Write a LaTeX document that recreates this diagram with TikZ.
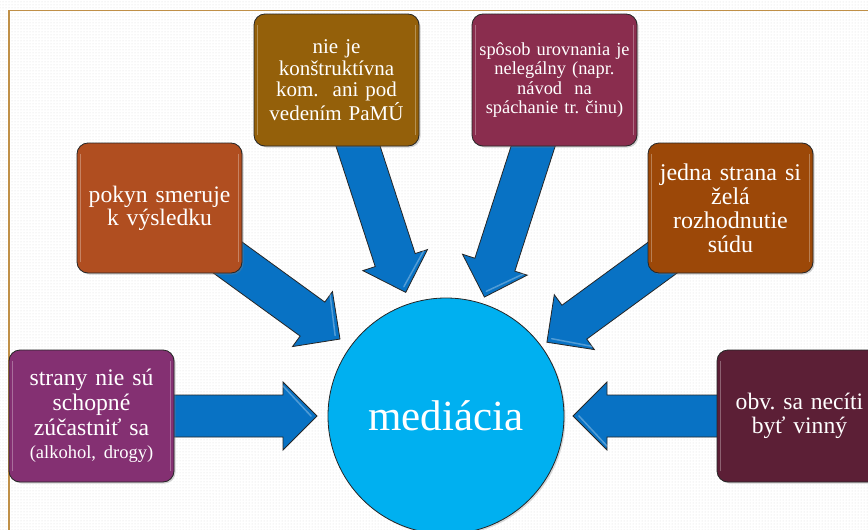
\documentclass[tikz,border=0pt]{standalone}
\usepackage{fontspec}
\setmainfont{Liberation Serif}
\frenchspacing
\usetikzlibrary{calc,shadows,patterns}
\definecolor{cA}{RGB}{132,48,114}
\definecolor{cB}{RGB}{176,78,32}
\definecolor{cC}{RGB}{148,96,10}
\definecolor{cD}{RGB}{138,45,78}
\definecolor{cE}{RGB}{156,72,8}
\definecolor{cF}{RGB}{92,31,54}
\definecolor{medc}{RGB}{0,176,240}
\definecolor{arrc}{RGB}{8,114,196}
\definecolor{framec}{RGB}{192,144,72}
\pgfdeclarelayer{back}
\pgfdeclarelayer{arrows}
\pgfsetlayers{back,arrows,main}
\newcommand{\blockarr}[2]{%
  \path ($(med)!#2!(#1)$) coordinate (tip-#1)
        ($(tip-#1)!34pt!(#1)$) coordinate (hb-#1);
  \draw[arrowsty] ($(#1)!21pt!90:(tip-#1)$) -- ($(hb-#1)!21pt!-90:(#1)$)
    -- ($(hb-#1)!34pt!-90:(#1)$) -- (tip-#1) -- ($(hb-#1)!34pt!90:(#1)$)
    -- ($(hb-#1)!21pt!90:(#1)$) -- ($(#1)!21pt!-90:(tip-#1)$) -- cycle;
  \draw[gloss] ($(hb-#1)!30pt!-90:(#1)$) -- ($(tip-#1)!6pt!(hb-#1)$);
}
\begin{document}
\begin{tikzpicture}[x=1pt,y=-1pt,
  box/.style={rounded corners=11, draw=black!85, line width=0.8, text=white,
    align=center, minimum width=165, minimum height=132, text width=160, inner sep=0,
    drop shadow={shadow xshift=1.5pt,shadow yshift=-1.5pt,opacity=.35}},
  arrowsty/.style={fill=arrc, draw=black!85, line width=0.8, line join=miter},
  gloss/.style={white, opacity=.3, line width=1.5, line cap=round}]
\useasboundingbox (0,0) rectangle (868,530);
\begin{pgfonlayer}{back}
\fill[white] (0,0) rectangle (868,530);
\fill[pattern=dots, pattern color=black!14] (0,0) rectangle (868,530);
\draw[framec, line width=1.5] (9,530) -- (9,10.5) -- (868,10.5);
\end{pgfonlayer}

\node[circle, fill=medc, draw=black!85, line width=0.8, minimum size=236, inner sep=0,
  text=white, font=\fontsize{43}{43}\selectfont,
  drop shadow={shadow xshift=1.5pt,shadow yshift=-1.5pt,opacity=.3}] (med) at (446,416) {mediácia};

\node[box, fill=cA, font=\fontsize{23.7}{25}\selectfont] (b1) at (91.5,416)
  {strany nie sú\\schopné\\zúčastniť sa\\[-2pt]{\fontsize{18.5}{22}\selectfont (alkohol, drogy)}};
\node[box, fill=cB, minimum height=130, font=\fontsize{23.6}{23}\selectfont] (b2) at (159.5,208)
  {pokyn smeruje\\k výsledku};
\node[box, fill=cC, font=\fontsize{21}{21.5}\selectfont] (b3) at (336.5,80)
  {nie je\\konštruktívna\\kom.\ \ ani pod\\vedením PaMÚ};
\node[box, fill=cD, font=\fontsize{18.4}{19.5}\selectfont] (b4) at (554.5,80)
  {spôsob urovnania je\\nelegálny (napr.\\návod\ \ na\\spáchanie tr. činu)};
\node[box, fill=cE, minimum height=130, font=\fontsize{24}{24}\selectfont] (b5) at (730.5,208)
  {jedna strana si\\želá\\rozhodnutie\\súdu};
\node[box, fill=cF, font=\fontsize{23.6}{23.5}\selectfont] (b6) at (799.5,416)
  {obv. sa necíti\\byť vinný};

\foreach \b in {b1,b2,b3,b4,b5,b6}{
  \draw[gloss] ($(\b.north west)+(4,12)$) -- ($(\b.south west)+(4,-12)$)
               ($(\b.north east)+(-4,12)$) -- ($(\b.south east)+(-4,-12)$);
}

\begin{pgfonlayer}{arrows}
\blockarr{b1}{129pt}
\blockarr{b2}{131pt}
\blockarr{b3}{130pt}
\blockarr{b4}{125pt}
\blockarr{b5}{125pt}
\blockarr{b6}{127pt}
\end{pgfonlayer}
\end{tikzpicture}
\end{document}
